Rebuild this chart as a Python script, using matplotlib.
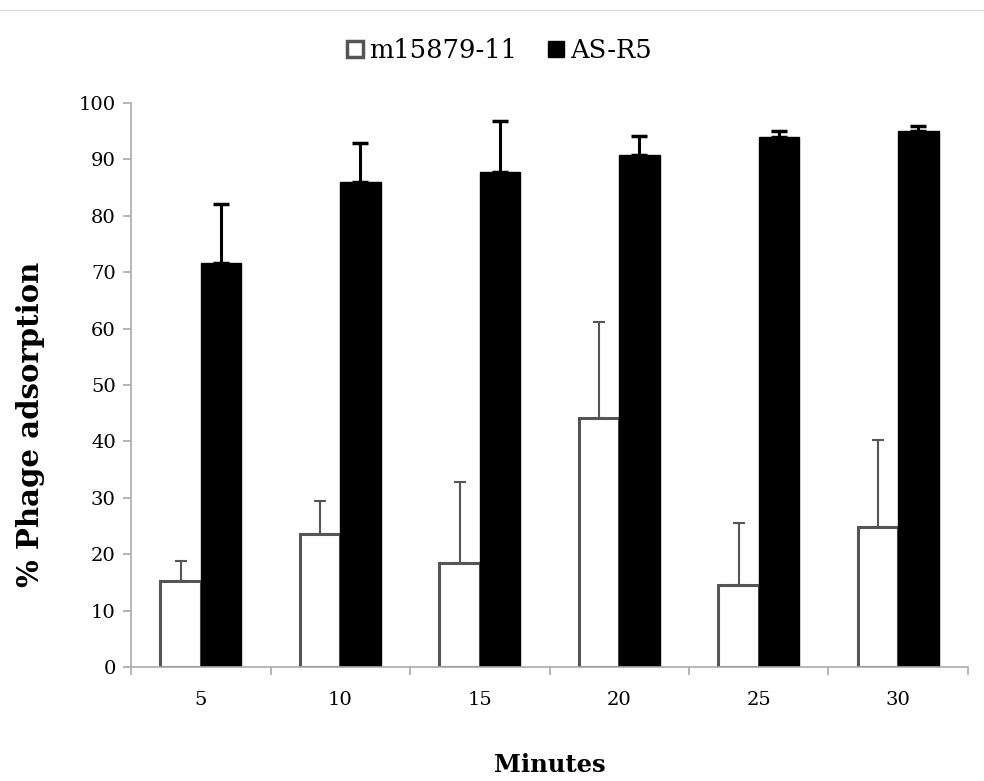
import matplotlib
matplotlib.use("Agg")
import matplotlib.pyplot as plt
import numpy as np
from matplotlib.lines import Line2D

minutes = ["5", "10", "15", "20", "25", "30"]
series_names = ["m15879-11", "AS-R5"]
m15879 = [15.2, 23.5, 18.4, 44.1, 14.6, 24.8]
m15879_err = [3.6, 5.9, 14.4, 17.0, 10.9, 15.4]
asr5 = [71.7, 86.0, 87.8, 90.7, 93.9, 95.1]
asr5_err = [10.4, 6.9, 9.0, 3.4, 1.2, 0.8]
yticks = list(range(0, 101, 10))

serif = ["DejaVu Serif"]
fig = plt.figure(figsize=(9.84, 7.81), dpi=100)
ax = fig.add_axes([131/984, 1-667/781, (968-131)/984, (667-103)/781])

x = np.arange(len(minutes))
w = 0.29
ax.bar(x - w/2, m15879, w, color="white", edgecolor="#555555", linewidth=2.2,
       yerr=[np.zeros(len(m15879)), m15879_err],
       error_kw=dict(ecolor="#555555", elinewidth=1.5, capsize=4.5, capthick=1.5), zorder=2)
ax.bar(x + w/2, asr5, w, color="black", edgecolor="black", linewidth=1,
       yerr=[np.zeros(len(asr5)), asr5_err],
       error_kw=dict(ecolor="black", elinewidth=2.2, capsize=6, capthick=2.5), zorder=2)

ax.set_xlim(-0.5, len(minutes) - 0.5)
ax.set_ylim(0, 100)
ax.set_yticks(yticks)
ax.set_yticklabels([str(t) for t in yticks], fontfamily=serif, fontsize=14)
ax.set_xticks(x)
ax.set_xticklabels(minutes, fontfamily=serif, fontsize=14)
ax.set_xticks(np.arange(-0.5, len(minutes)), minor=True)
ax.tick_params(axis="x", which="major", length=0, pad=17)
ax.tick_params(axis="x", which="minor", length=6, color="#aaaaaa", width=1.2)
ax.tick_params(axis="y", length=6, color="#aaaaaa", width=1.2, pad=5)
for s in ["top", "right"]:
    ax.spines[s].set_visible(False)
for s in ["left", "bottom"]:
    ax.spines[s].set_color("#aaaaaa")
    ax.spines[s].set_linewidth(1.2)

fig.text(31/984, 1-424/781, "% Phage adsorption", rotation=90, ha="center", va="center",
         fontfamily=serif, fontsize=21, fontweight="bold")
fig.text(550/984, 1-765/781, "Minutes", ha="center", va="center",
         fontfamily=serif, fontsize=17.5, fontweight="bold")

handles = [
    Line2D([], [], marker="s", linestyle="none", markersize=11, markerfacecolor="white",
           markeredgecolor="#555555", markeredgewidth=2.5),
    Line2D([], [], marker="s", linestyle="none", markersize=11, markerfacecolor="black",
           markeredgecolor="black"),
]
fig.legend(handles, series_names, loc="center", bbox_to_anchor=(497/984, 1-50/781),
           ncol=2, frameon=False, prop=dict(family=serif, size=18.5),
           handletextpad=0.05, columnspacing=1.0, handlelength=1.0)

fig.add_artist(Line2D([0, 1], [1-10/781, 1-10/781], color="#dddddd", linewidth=1,
                      transform=fig.transFigure))

fig.savefig("out.png", dpi=100)
